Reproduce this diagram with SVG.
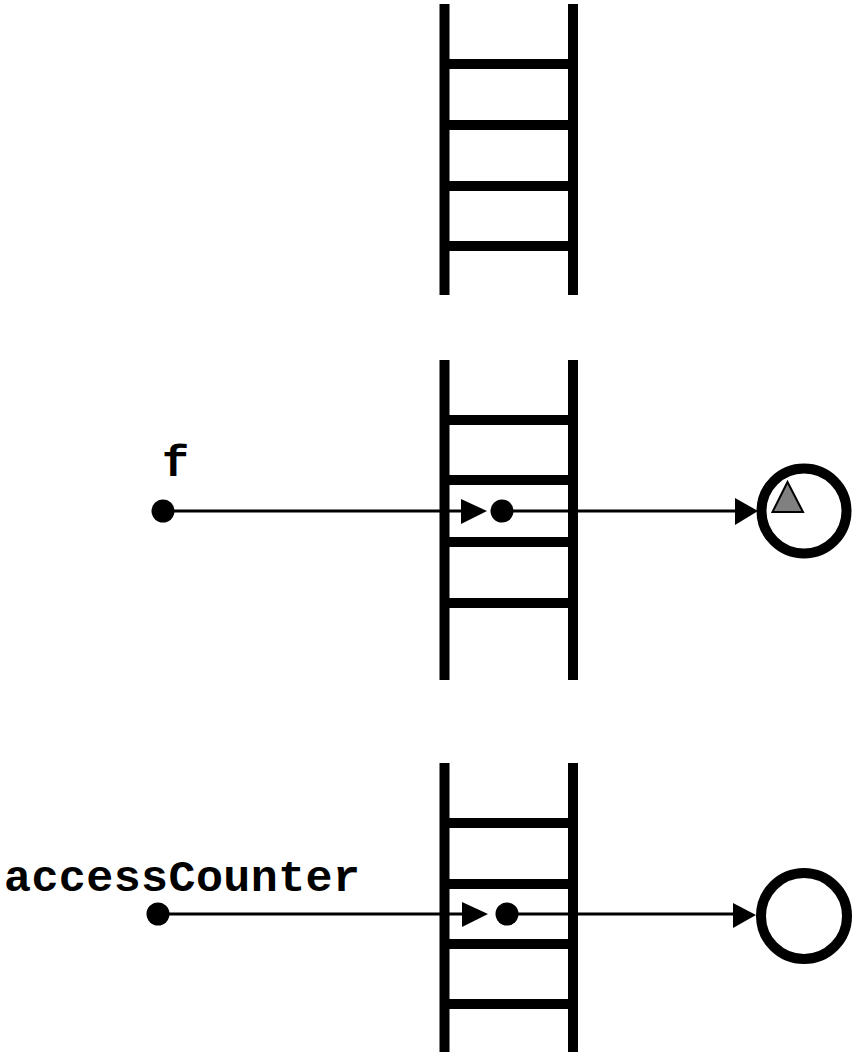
<svg xmlns="http://www.w3.org/2000/svg" width="854" height="1054" viewBox="0 0 854 1054">
  <style>
    .rail { stroke: #000; stroke-width: 10; fill: none; }
    .wire { stroke: #000; stroke-width: 3; fill: none; }
    .dot { fill: #000; }
    .obj { fill: #fff; stroke: #000; stroke-width: 10; }
    .label { font-family: "Liberation Mono", "Courier New", monospace; font-weight: bold; font-size: 45px; fill: #000; }
  </style>
  <defs>
    <g id="ladder-shape">
      <line class="rail" x1="444.5" y1="0" x2="444.5" y2="291"/>
      <line class="rail" x1="573" y1="0" x2="573" y2="291"/>
      <line class="rail" x1="449" y1="60" x2="569" y2="60"/>
      <line class="rail" x1="449" y1="121" x2="569" y2="121"/>
      <line class="rail" x1="449" y1="182" x2="569" y2="182"/>
      <line class="rail" x1="449" y1="242" x2="569" y2="242"/>
    </g>
  </defs>

  <g id="stack-top">
    <use href="#ladder-shape" x="0" y="4"/>
  </g>

  <g id="stack-middle">
    <line class="rail" x1="444.5" y1="360" x2="444.5" y2="680"/>
    <line class="rail" x1="573" y1="360" x2="573" y2="680"/>
    <line class="rail" x1="449" y1="420" x2="569" y2="420"/>
    <line class="rail" x1="449" y1="480" x2="569" y2="480"/>
    <line class="rail" x1="449" y1="542" x2="569" y2="542"/>
    <line class="rail" x1="449" y1="603" x2="569" y2="603"/>
    <circle class="dot" cx="502" cy="511" r="11.5"/>
  </g>

  <g id="stack-bottom">
    <line class="rail" x1="444.5" y1="763" x2="444.5" y2="1052"/>
    <line class="rail" x1="573" y1="763" x2="573" y2="1052"/>
    <line class="rail" x1="449" y1="823" x2="569" y2="823"/>
    <line class="rail" x1="449" y1="884" x2="569" y2="884"/>
    <line class="rail" x1="449" y1="944" x2="569" y2="944"/>
    <line class="rail" x1="449" y1="1004" x2="569" y2="1004"/>
    <circle class="dot" cx="507" cy="914" r="11.5"/>
  </g>

  <g id="var-f">
    <text class="label" x="162" y="476">f</text>
    <circle class="dot" cx="163" cy="511" r="11.5"/>
  </g>

  <g id="var-accessCounter">
    <text class="label" x="4" y="891" textLength="356" lengthAdjust="spacing">accessCounter</text>
    <circle class="dot" cx="158" cy="914" r="11.5"/>
  </g>

  <g id="object-upper">
    <circle class="obj" cx="804" cy="511" r="42.5"/>
    <polygon points="787.5,482 772.5,512 803,512" fill="#808080" stroke="#000" stroke-width="2"/>
  </g>

  <g id="object-lower">
    <circle class="obj" cx="804" cy="916" r="43"/>
  </g>

  <g id="connectors">
    <line class="wire" x1="163" y1="511" x2="462" y2="511"/>
    <polygon points="461,499 487,511 461,524"/>
    <line class="wire" x1="502" y1="511" x2="736" y2="511"/>
    <polygon points="735,498 758,511 735,525"/>
    <line class="wire" x1="158" y1="914" x2="463" y2="914"/>
    <polygon points="462,902 488,914 462,927"/>
    <line class="wire" x1="507" y1="914" x2="734" y2="914"/>
    <polygon points="733,903 756,915 733,928"/>
  </g>
</svg>
